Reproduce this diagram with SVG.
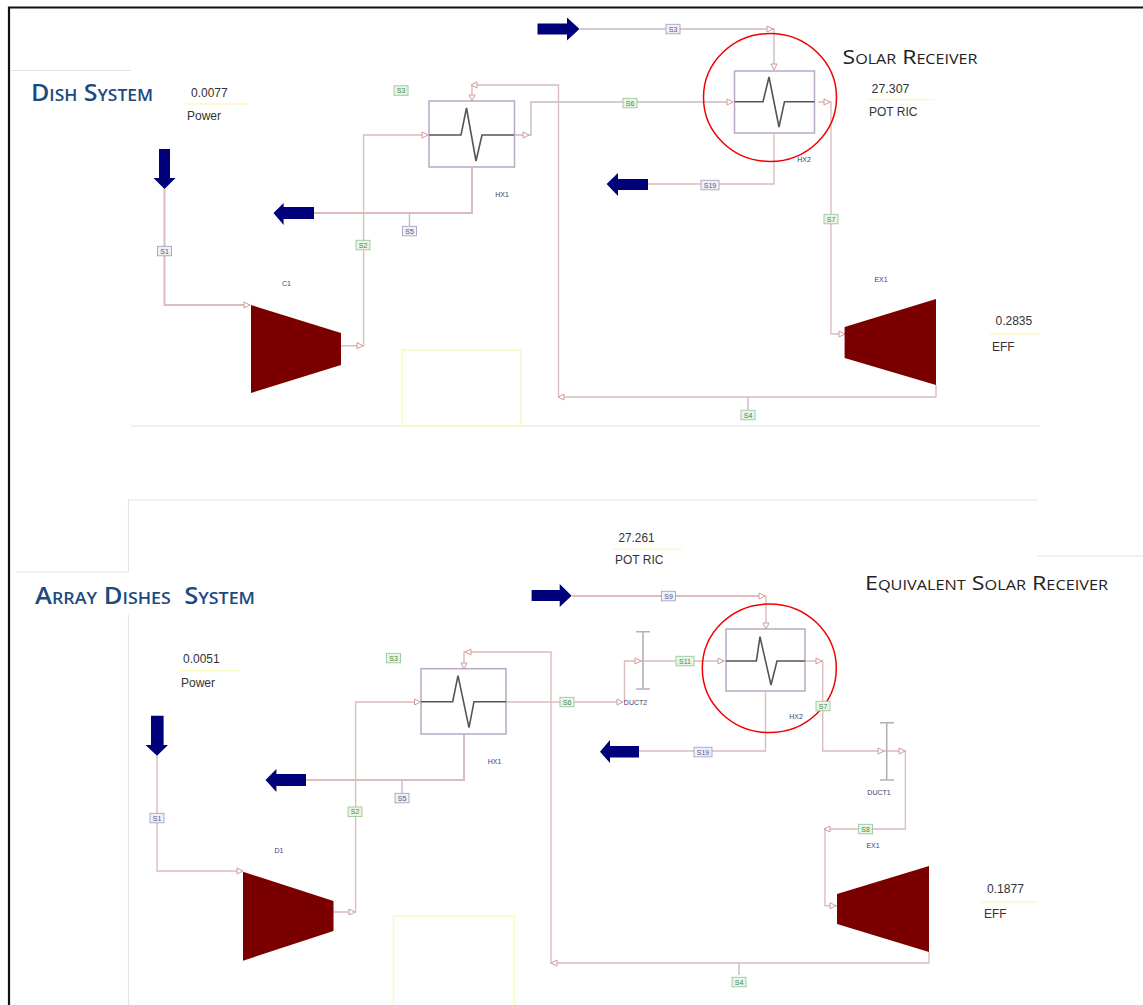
<svg xmlns="http://www.w3.org/2000/svg" width="1143" height="1005" viewBox="0 0 1143 1005">
<style>
text{font-family:"Liberation Sans",Arial,sans-serif}
.frame{fill:none;stroke:#111;stroke-width:2.2}
.rule{fill:none;stroke:#e3e3e3;stroke-width:1.2}
.yl{fill:none;stroke:#fbf9c4;stroke-width:1.6}
.c{fill:none;stroke:#dcbcbc;stroke-width:1.4}
.cb{fill:none;stroke:#c9b8c8;stroke-width:1.4}
.t{fill:#7a0000}
.hx{fill:#fff;stroke:#b9a9c4;stroke-width:1.5}
.zz{fill:none;stroke:#555;stroke-width:1.6}
.ar{fill:#000078}
.ah{fill:#fff;stroke:#d39a9a;stroke-width:1}
.bar{fill:none;stroke:#b5b0b5;stroke-width:1.6}
.ring{fill:none;stroke:#f00000;stroke-width:1.5}
.title{font-variant:small-caps;font-size:23px;font-weight:600;fill:#1c4a80;white-space:pre;font-family:"Open Sans","Liberation Sans",sans-serif}
.rec{font-variant:small-caps;font-size:20px;fill:#222;font-family:"Open Sans","Liberation Sans",sans-serif}
.v{font-size:12px;fill:#333}
.n{font-size:7px;fill:#3c3c70;text-anchor:middle}
.lg{fill:#eaf5ea;stroke:#9cc79c;stroke-width:.9}
.lb{fill:#f0f0f6;stroke:#a4a4c4;stroke-width:.9}
.tg{font-size:7px;fill:#3d8a3d;text-anchor:middle}
.tb{font-size:7px;fill:#55558a;text-anchor:middle}
</style>
<defs>
<path id="ah" class="ah" d="M-3-3 L3 0 L-3 3Z"/>
<rect id="gs" class="lg" x="-7" y="-4.700" width="14" height="9.500"/>
<rect id="bs" class="lb" x="-7" y="-4.700" width="14" height="9.500"/>
<rect id="gw" class="lg" x="-9" y="-4.700" width="18" height="9.500"/>
<rect id="bw" class="lb" x="-9" y="-4.700" width="18" height="9.500"/>
</defs>

<g id="frame">
<path class="frame" d="M9 1005V7.500H1143"/>
<path class="rule" d="M11 70.500H131M131 426H1040M128.500 572H16M128.500 572V500H1037M128.500 615V1005M1037 556H1143"/>
<rect class="yl" x="402.500" y="350" width="118.500" height="76"/>
<path class="yl" d="M393.500 1005V916H514.500V1005"/>
</g>

<g id="connectors">
<path class="cb" d="M580 29H774V68"/>
<path class="c" style="stroke-width:2" d="M164.500 189V305H248"/>
<path class="c" d="M341 345.700H363.600V135H425"/>
<path class="cb" d="M514 135H526M526 135H531V102H731"/>
<path class="c" d="M818 102H831V334H842"/>
<path class="c" d="M936 385V397H558.500V85H472V98"/>
<path class="c" style="stroke-width:2" d="M472 167V213H314"/>
<path class="c" d="M774 133V184H648"/>
<path class="cb" d="M409.500 213V226M748 397V410"/>
<path class="c" style="stroke-width:2" d="M572 596H766"/>
<path class="c" d="M766 596V626"/>
<path class="c" d="M157 755V871H240"/>
<path class="c" d="M333.500 912H355.600V702H417"/>
<path class="c" d="M506 702H620M624.500 702V661H725"/>
<path class="c" d="M805 661H822.700V751H905.400V829H825V905.700H837"/>
<path class="c" d="M929 952V963H551V652H464V666"/>
<path class="c" style="stroke-width:2" d="M464 734V780H306"/>
<path class="c" d="M765.500 691V751H639"/>
<path class="cb" d="M402 780V793M739 963V975"/>
<use href="#ah" x="770" y="29"/>
<use href="#ah" transform="translate(774 67) rotate(90)"/>
<use href="#ah" x="730" y="102"/>
<use href="#ah" x="827" y="102"/>
<use href="#ah" x="526" y="135"/>
<use href="#ah" x="842" y="334"/>
<use href="#ah" transform="translate(561 397) rotate(180)"/>
<use href="#ah" transform="translate(474 85) rotate(180)"/>
<use href="#ah" transform="translate(472 98) rotate(90)"/>
<use href="#ah" x="425" y="135"/>
<use href="#ah" x="360" y="345.700"/>
<use href="#ah" x="247" y="305"/>
<use href="#ah" x="762" y="596"/>
<use href="#ah" transform="translate(766 626) rotate(90)"/>
<use href="#ah" x="721" y="661"/>
<use href="#ah" x="819" y="661"/>
<use href="#ah" x="881" y="751"/>
<use href="#ah" x="902" y="751"/>
<use href="#ah" transform="translate(827 829) rotate(180)"/>
<use href="#ah" x="833" y="905.700"/>
<use href="#ah" transform="translate(554 963) rotate(180)"/>
<use href="#ah" transform="translate(468 652) rotate(180)"/>
<use href="#ah" transform="translate(464 666) rotate(90)"/>
<use href="#ah" x="620" y="702"/>
<use href="#ah" x="638" y="661"/>
<use href="#ah" x="417.500" y="702"/>
<use href="#ah" x="352" y="912"/>
<use href="#ah" x="240" y="871"/>
</g>

<g id="dish-title"><text class="title" x="31" y="101" textLength="122" lengthAdjust="spacingAndGlyphs">Dish System</text></g>
<g id="array-title"><text class="title" x="35" y="603.500" textLength="220" lengthAdjust="spacingAndGlyphs">Array Dishes  System</text></g>
<g id="solar-receiver-title"><text class="rec" x="842.500" y="64" textLength="135" lengthAdjust="spacingAndGlyphs">Solar Receiver</text></g>
<g id="equivalent-receiver-title"><text class="rec" x="865" y="590" textLength="243" lengthAdjust="spacingAndGlyphs">Equivalent Solar Receiver</text></g>

<g id="top-hx1">
<rect class="hx" x="429" y="101" width="85.500" height="66"/>
<path class="zz" d="M429 135H461L466.500 108L476 161L482 135H514"/>
<text class="n" x="502" y="196.500">HX1</text>
</g>
<g id="top-hx2">
<rect class="hx" x="734.500" y="71" width="80" height="62"/>
<path class="zz" d="M734.500 101.700H763L769 77L779 127L784.500 101.700H814.500"/>
<ellipse class="ring" cx="770" cy="97.500" rx="66.500" ry="64"/>
<text class="n" x="804" y="161.500">HX2</text>
</g>
<g id="top-c1">
<path class="t" d="M251 305L341 333V365L251 393Z"/>
<text class="n" x="286.500" y="285.500">C1</text>
</g>
<g id="top-ex1">
<path class="t" d="M844.600 327L936 299V385L844.600 358Z"/>
<text class="n" x="881" y="281.500">EX1</text>
</g>
<g id="top-arrows">
<path class="ar" d="M537.500 23.500H567V17.500L579.500 29L567 40.500V34.500H537.500Z"/>
<path class="ar" d="M159 149H170V178H175.600L164.500 189L153.500 178H159Z"/>
<path class="ar" d="M314 207H283.600V203L273.500 213L283.600 225V219H314Z"/>
<path class="ar" d="M648 179H618V173L606.600 184L618 196V190H648Z"/>
</g>
<g id="top-streams">
<g transform="translate(673 29)"><use href="#bs"/><text class="tb" y="2.500">S3</text></g>
<g transform="translate(401 90.500)"><use href="#gs"/><text class="tg" y="2.500">S3</text></g>
<g transform="translate(630 103)"><use href="#gs"/><text class="tg" y="2.500">S6</text></g>
<g transform="translate(831 219)"><use href="#gs"/><text class="tg" y="2.500">S7</text></g>
<g transform="translate(748 415)"><use href="#gs"/><text class="tg" y="2.500">S4</text></g>
<g transform="translate(363 245)"><use href="#gs"/><text class="tg" y="2.500">S2</text></g>
<g transform="translate(409.500 231)"><use href="#bs"/><text class="tb" y="2.500">S5</text></g>
<g transform="translate(164.500 251)"><use href="#bs"/><text class="tb" y="2.500">S1</text></g>
<g transform="translate(710 185)"><use href="#bw"/><text class="tb" y="2.500">S19</text></g>
</g>
<g id="top-values">
<text class="v" x="191" y="97">0.0077</text>
<path class="yl" d="M185 104H248"/>
<text class="v" x="187" y="120">Power</text>
<text class="v" x="871.500" y="93" textLength="38" lengthAdjust="spacingAndGlyphs">27.307</text>
<path class="yl" d="M867 99.500H935"/>
<text class="v" x="869" y="116">POT RIC</text>
<text class="v" x="995.500" y="325">0.2835</text>
<path class="yl" d="M990 334H1040"/>
<text class="v" x="992" y="351">EFF</text>
</g>

<g id="bottom-hx1">
<rect class="hx" x="421" y="668.700" width="85" height="65.300"/>
<path class="zz" d="M421 701.700H452.700L458 675.700L469 727.700L474 701.700H506"/>
<text class="n" x="494.500" y="763.500">HX1</text>
</g>
<g id="bottom-hx2">
<rect class="hx" x="726" y="629" width="79" height="62"/>
<path class="zz" d="M726 661H756.400L760 636.700L771 685L777 661H805"/>
<ellipse class="ring" cx="769.300" cy="668.300" rx="67" ry="64.300"/>
<text class="n" x="796" y="718.500">HX2</text>
</g>
<g id="bottom-duct2">
<path class="bar" d="M643 631.700V689M636 631.700H650M636 689H650"/>
<text class="n" x="635.500" y="704.500">DUCT2</text>
</g>
<g id="bottom-duct1">
<path class="bar" d="M886.700 722.700V780M880 722.700H894M880 780H894"/>
<text class="n" x="879" y="794.500">DUCT1</text>
</g>
<g id="bottom-c1">
<path class="t" d="M243 871.700L333.500 901V931L243 960.700Z"/>
<text class="n" x="279" y="852.500">D1</text>
</g>
<g id="bottom-ex1">
<path class="t" d="M837 894L929 866V952L837 924Z"/>
<text class="n" x="873" y="847.500">EX1</text>
</g>
<g id="bottom-arrows">
<path class="ar" d="M531.600 590H559.700V584L571.600 595.700L559.700 607V601H531.600Z"/>
<path class="ar" d="M151 715.700H163.600V745H168L157 755.700L145.500 745H151Z"/>
<path class="ar" d="M306 774H276.400V769L265.500 780L276.400 792V786H306Z"/>
<path class="ar" d="M639 746H610V740L600 751.700L610 763V757.500H639Z"/>
</g>
<g id="bottom-streams">
<g transform="translate(668.500 596)"><use href="#bs"/><text class="tb" y="2.500">S9</text></g>
<g transform="translate(393.500 658)"><use href="#gs"/><text class="tg" y="2.500">S3</text></g>
<g transform="translate(567 702)"><use href="#gs"/><text class="tg" y="2.500">S6</text></g>
<g transform="translate(685 661)"><use href="#gw"/><text class="tg" y="2.500">S11</text></g>
<g transform="translate(823 706)"><use href="#gs"/><text class="tg" y="2.500">S7</text></g>
<g transform="translate(865.600 829)"><use href="#gs"/><text class="tg" y="2.500">S8</text></g>
<g transform="translate(739 982)"><use href="#gs"/><text class="tg" y="2.500">S4</text></g>
<g transform="translate(355 811.700)"><use href="#gs"/><text class="tg" y="2.500">S2</text></g>
<g transform="translate(402 798)"><use href="#bs"/><text class="tb" y="2.500">S5</text></g>
<g transform="translate(157 818)"><use href="#bs"/><text class="tb" y="2.500">S1</text></g>
<g transform="translate(703 752)"><use href="#bw"/><text class="tb" y="2.500">S19</text></g>
</g>
<g id="bottom-values">
<text class="v" x="183" y="663">0.0051</text>
<path class="yl" d="M178 670.700H240"/>
<text class="v" x="181" y="687">Power</text>
<text class="v" x="618.500" y="541.700" textLength="36" lengthAdjust="spacingAndGlyphs">27.261</text>
<path class="yl" d="M613 549.300H682"/>
<text class="v" x="615" y="564">POT RIC</text>
<text class="v" x="987" y="892.700" textLength="37" lengthAdjust="spacingAndGlyphs">0.1877</text>
<path class="yl" d="M981 902H1037"/>
<text class="v" x="984" y="917.700">EFF</text>
</g>
</svg>
